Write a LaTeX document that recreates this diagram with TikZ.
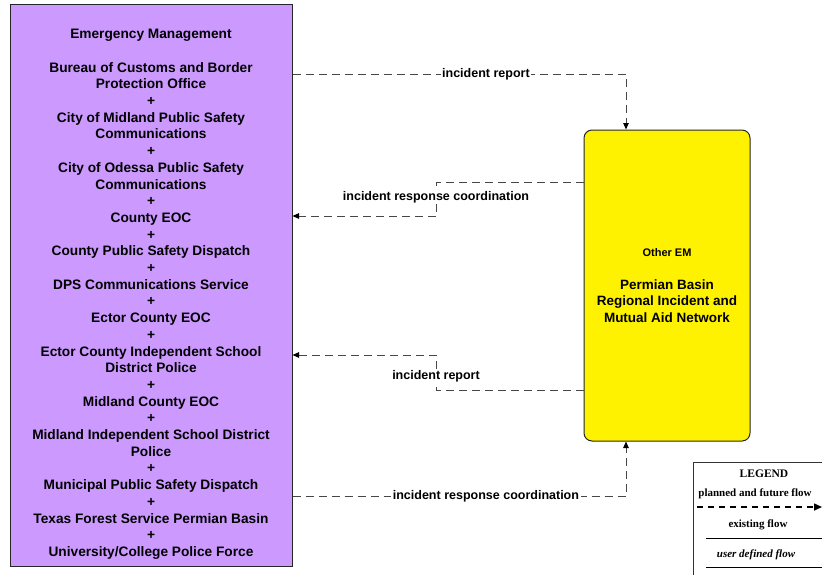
\documentclass[tikz,border=0pt]{standalone}
\usepackage{fontspec}
\setmainfont{Liberation Sans}
\newfontfamily\legendfont{Liberation Serif}
\usetikzlibrary{arrows.meta,positioning}
\definecolor{emviolet}{RGB}{204,153,255}
\definecolor{flowgray}{RGB}{70,70,70}

\begin{document}
\begin{tikzpicture}[x=1pt, y=-1pt,
    every node/.style={align=center, font=\bfseries},
    subsys/.style={draw=black!85, line width=1pt, inner sep=0pt},
    flow/.style={draw=flowgray, line width=1pt, dash pattern=on 8pt off 5pt,
      -{Triangle[length=6.5pt,width=5.5pt,color=black]}},
    flowlabel/.style={fill=white, inner sep=1.5pt, font=\bfseries\fontsize{12.5}{14}\selectfont},
    legendtext/.style={font=\legendfont\bfseries\fontsize{11}{13}\selectfont}
  ]
  \useasboundingbox (0,0) rectangle (822,574);

  % subsystems
  \node[subsys, fill=emviolet, minimum width=282pt, minimum height=562pt,
    font=\bfseries\fontsize{13.7}{16.7}\selectfont] (em) at (151,285)
    {\rule{0pt}{28pt}Emergency Management\\[16.7pt]
     Bureau of Customs and Border\\Protection Office\\+\\
     City of Midland Public Safety\\Communications\\+\\
     City of Odessa Public Safety\\Communications\\+\\
     County EOC\\+\\
     County Public Safety Dispatch\\+\\
     DPS Communications Service\\+\\
     Ector County EOC\\+\\
     Ector County Independent School\\District Police\\+\\
     Midland County EOC\\+\\
     Midland Independent School District\\Police\\+\\
     Municipal Public Safety Dispatch\\+\\
     Texas Forest Service Permian Basin\\+\\
     University/College Police Force};
  \node[subsys, fill=yellow, rounded corners=8pt, minimum width=166pt, minimum height=311pt,
    font=\bfseries\fontsize{13.5}{16.7}\selectfont] (oem) at (667,285.5)
    {{\fontsize{11}{13}\selectfont Other EM}\\[16pt]
     Permian Basin\\Regional Incident and\\Mutual Aid Network};

  % flows
  \coordinate (irTop) at (626,74);
  \draw[flow] (em.east |- irTop) -- node[flowlabel, pos=0.58] {incident report} (irTop) -- (oem.north -| irTop);

  \coordinate (ircA) at (436,182);
  \coordinate (ircB) at (436,216);
  \draw[flow] (oem.west |- ircA) -- (ircA) -- node[flowlabel, pos=0.44] {incident response coordination} (ircB) -- (em.east |- ircB);

  \coordinate (irA) at (436,390);
  \coordinate (irB) at (436,355);
  \draw[flow] (oem.west |- irA) -- (irA) -- node[flowlabel, pos=0.4] {incident report} (irB) -- (em.east |- irB);

  \coordinate (ircBot) at (626,496);
  \draw[flow] (em.east |- ircBot) -- node[flowlabel, pos=0.58] {incident response coordination} (ircBot) -- (oem.south -| ircBot);

  % legend
  \node[draw=black!80, line width=1pt, minimum width=140pt, minimum height=120pt, anchor=north west] (legend) at (693,462) {};
  \node[legendtext, font=\legendfont\bfseries\fontsize{11.5}{13}\selectfont] (legtitle) at (764,474) {LEGEND};
  \node[legendtext] (legplanned) at (755,494) {planned and future flow};
  \coordinate (plannedA) at (697,507);
  \coordinate (plannedB) at (822,507);
  \draw[black, line width=1.5pt, dash pattern=on 6pt off 5pt, -{Triangle[length=8pt,width=7pt]}] (plannedA) -- (plannedB);
  \node[legendtext] (legexisting) at (758,525) {existing flow};
  \coordinate (existingA) at (706,538);
  \coordinate (existingB) at (822,538);
  \draw[black, line width=1pt] (existingA) -- (existingB);
  \node[legendtext, font=\legendfont\bfseries\itshape\fontsize{11}{13}\selectfont] (leguser) at (756,555) {user defined flow};
  \coordinate (userA) at (706,567);
  \coordinate (userB) at (822,567);
  \draw[black, line width=1pt] (userA) -- (userB);
\end{tikzpicture}
\end{document}
